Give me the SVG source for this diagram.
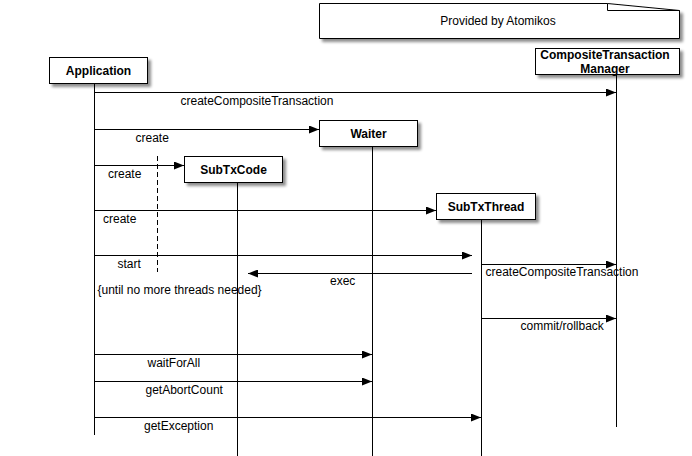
<svg xmlns="http://www.w3.org/2000/svg" width="692" height="456" viewBox="0 0 692 456">
  <defs>
    <filter id="shadow" x="-10%" y="-20%" width="130%" height="160%">
      <feGaussianBlur in="SourceAlpha" stdDeviation="1.4" result="b"/>
      <feOffset in="b" dx="3" dy="3" result="o"/>
      <feComponentTransfer in="o" result="s">
        <feFuncA type="linear" slope="0.45"/>
      </feComponentTransfer>
      <feMerge>
        <feMergeNode in="s"/>
        <feMergeNode in="SourceGraphic"/>
      </feMerge>
    </filter>
    <marker id="arrow" viewBox="0 0 10 8" refX="10" refY="4" markerWidth="10" markerHeight="8" markerUnits="userSpaceOnUse" orient="auto">
      <path d="M0,0 L10,4 L0,8 Z" fill="#000"/>
    </marker>
  </defs>
  <style>
    .box { fill: #fff; stroke: #000; stroke-width: 1; }
    .title { font-family: "Liberation Sans", Arial, sans-serif; font-size: 12px; font-weight: bold; fill: #000; text-anchor: middle; }
    .label { font-family: "Liberation Sans", Arial, sans-serif; font-size: 12px; fill: #000; }
    .life { stroke: #000; stroke-width: 1; fill: none; }
    .msg { stroke: #000; stroke-width: 1; fill: none; }
    .arr { marker-end: url(#arrow); }
    .dash { stroke: #000; stroke-width: 1; stroke-dasharray: 5 3; fill: none; }
  </style>
  <rect width="692" height="456" fill="#fff"/>

  <!-- note with folded corner -->
  <g id="note">
    <path class="box" filter="url(#shadow)" d="M319.5,3.5 H607.5 L679.5,10.5 V38.5 H319.5 Z"/>
    <path class="life" d="M607.5,3.5 V10.5 H679.5"/>
    <text class="label" x="498" y="25" text-anchor="middle">Provided by Atomikos</text>
  </g>

  <!-- lifelines -->
  <g id="lifelines">
    <line class="life" x1="94.5" y1="84" x2="94.5" y2="435"/>
    <line class="life" x1="616.5" y1="75" x2="616.5" y2="427"/>
    <line class="life" x1="372.5" y1="147" x2="372.5" y2="456"/>
    <line class="life" x1="237.5" y1="183" x2="237.5" y2="456"/>
    <line class="life" x1="481.5" y1="219" x2="481.5" y2="456"/>
    <line class="dash" x1="157.5" y1="156" x2="157.5" y2="272"/>
  </g>

  <!-- participants -->
  <g id="application">
    <rect class="box" filter="url(#shadow)" x="49.5" y="57.5" width="98" height="26"/>
    <text class="title" x="98.5" y="75">Application</text>
  </g>
  <g id="ctm">
    <rect class="box" filter="url(#shadow)" x="535.5" y="48.5" width="144" height="26"/>
    <text class="title" x="605" y="59">CompositeTransaction</text>
    <text class="title" x="605" y="72.5">Manager</text>
  </g>
  <g id="waiter">
    <rect class="box" filter="url(#shadow)" x="319.5" y="120.5" width="98" height="26"/>
    <text class="title" x="368.5" y="138">Waiter</text>
  </g>
  <g id="subtxcode">
    <rect class="box" filter="url(#shadow)" x="184.5" y="156.5" width="98" height="26"/>
    <text class="title" x="233.5" y="174">SubTxCode</text>
  </g>
  <g id="subtxthread">
    <rect class="box" filter="url(#shadow)" x="436.5" y="193.5" width="99" height="26"/>
    <text class="title" x="486" y="211">SubTxThread</text>
  </g>

  <!-- messages -->
  <g id="connectors">
    <line class="msg arr" x1="94.5" y1="92.5" x2="616" y2="92.5"/>
    <line class="msg arr" x1="94.5" y1="129.5" x2="319" y2="129.5"/>
    <line class="msg arr" x1="94.5" y1="165.5" x2="184" y2="165.5"/>
    <line class="msg arr" x1="94.5" y1="210.5" x2="436" y2="210.5"/>
    <line class="msg arr" x1="94.5" y1="255.5" x2="472" y2="255.5"/>
    <line class="msg arr" x1="472" y1="273.5" x2="248" y2="273.5"/>
    <line class="msg arr" x1="481.5" y1="264.5" x2="616" y2="264.5"/>
    <line class="msg arr" x1="481.5" y1="318.5" x2="616" y2="318.5"/>
    <line class="msg arr" x1="94.5" y1="354.5" x2="372" y2="354.5"/>
    <line class="msg arr" x1="94.5" y1="381.5" x2="372" y2="381.5"/>
    <line class="msg arr" x1="94.5" y1="417.5" x2="481" y2="417.5"/>
  </g>

  <g id="labels">
    <text class="label" x="180.5" y="105">createCompositeTransaction</text>
    <text class="label" x="135.5" y="142">create</text>
    <text class="label" x="108" y="178">create</text>
    <text class="label" x="103" y="223">create</text>
    <text class="label" x="117.5" y="268">start</text>
    <text class="label" x="330" y="285">exec</text>
    <text class="label" x="97.5" y="294">{until no more threads needed}</text>
    <text class="label" x="485.5" y="276">createCompositeTransaction</text>
    <text class="label" x="520.5" y="330">commit/rollback</text>
    <text class="label" x="147.5" y="367">waitForAll</text>
    <text class="label" x="145.5" y="394">getAbortCount</text>
    <text class="label" x="144" y="430">getException</text>
  </g>
</svg>
